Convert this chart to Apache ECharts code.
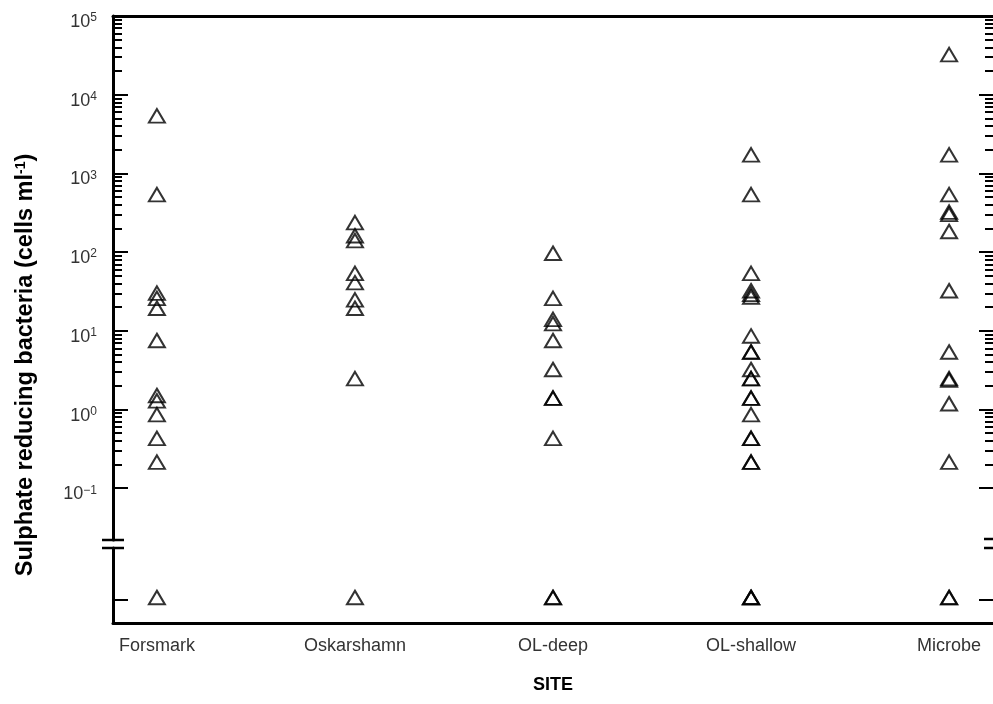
<!DOCTYPE html>
<html>
<head>
<meta charset="utf-8">
<script src="https://cdn.jsdelivr.net/npm/echarts@6/dist/echarts.min.js"></script>
<style>
  html, body { margin: 0; padding: 0; background: #fff; }
  #chart { width: 993px; height: 704px; }
</style>
</head>
<body>
<div id="chart"></div>
<script>
// Sites on the horizontal axis
const sites = ['Forsmark', 'Oskarshamn', 'OL-deep', 'OL-shallow', 'Microbe'];

// Sulphate reducing bacteria per site (cells per ml); 0 = below detection
const forsmark   = [5000, 500, 28, 24, 18, 7, 1.4, 1.2, 0.8, 0.4, 0.2, 0];
const oskarshamn = [220, 150, 130, 50, 38, 23, 18, 2.3, 0];
const olDeep     = [90, 24, 13, 11.5, 7, 3, 1.3, 1.3, 0.4, 0, 0];
const olShallow  = [1600, 500, 50, 30, 27, 25, 8, 5, 5, 3, 2.3, 2.3, 1.3, 1.3, 0.8, 0.4, 0.4, 0.2, 0.2, 0, 0, 0];
const microbe    = [30000, 1600, 500, 300, 280, 170, 30, 5, 2.3, 2.2, 1.1, 0.2, 0, 0];

// Decade tick labels of the log axis
const decadeTicks = [0.1, 1, 10, 100, 1000, 10000, 100000];
// Intermediate multipliers for the minor log ticks
const minorMultipliers = [2, 3, 4, 5, 6, 7, 8, 9];

const siteValues = [forsmark, oskarshamn, olDeep, olShallow, microbe];

const minorTicks = [];
decadeTicks.slice(0, -1).forEach(d => {
  minorMultipliers.forEach(k => minorTicks.push(parseFloat((k * d).toPrecision(4))));
});

const logPoints = [];
const zeroPoints = [];
siteValues.forEach((vals, i) => {
  vals.forEach(v => (v > 0 ? logPoints : zeroPoints).push([i, v]));
});

// layout of the two stacked panels (log part above the break, zero strip below)
const LEFT = 113, WIDTH = 882, TOP = 15, BREAK_HI = 540, BREAK_LO = 548, BOTTOM = 623;
const X_PAD = 0.2217;
const FONT = 'Liberation Sans, Arial, Helvetica, sans-serif';

const black = '#000';
const axisLine = { show: true, onZero: false, lineStyle: { color: black, width: 3 } };
const hiddenLine = { show: false, onZero: false };
const noSplit = { show: false };

function decadeLabel(v) {
  const e = Math.round(Math.log10(v));
  return '10{sup|' + (e < 0 ? '\u2212' + (-e) : e) + '}';
}
const labelRich = {
  sup: { fontSize: 12, color: '#333', fontFamily: FONT, verticalAlign: 'top', lineHeight: 12 }
};

function logAxis(position, ticks, len, width, withLine, withLabels) {
  return {
    gridIndex: 0, type: 'log', logBase: 10, position,
    min: 0.022, max: 100000,
    axisLine: withLine ? axisLine : hiddenLine,
    axisTick: { show: true, inside: true, length: len, customValues: ticks,
                lineStyle: { color: black, width } },
    axisLabel: withLabels ? {
      show: true, customValues: decadeTicks, formatter: decadeLabel,
      color: '#333', fontSize: 18, fontFamily: FONT, margin: 16,
      lineHeight: 20, padding: [12, 0, 0, 0], rich: labelRich
    } : { show: false },
    splitLine: noSplit, minorTick: { show: false }
  };
}

function zeroAxis(position, len, withLine) {
  return {
    gridIndex: 1, type: 'value', position, min: -23, max: 52,
    axisLine: withLine ? axisLine : hiddenLine,
    axisTick: { show: true, inside: true, length: len, customValues: [0],
                lineStyle: { color: black, width: 2 } },
    axisLabel: { show: false },
    splitLine: noSplit
  };
}

const triangle = {
  type: 'scatter', symbol: 'triangle', symbolSize: [16, 13.5], symbolOffset: [0, -2.5],
  itemStyle: { color: 'rgba(0,0,0,0)', borderColor: black, borderWidth: 2 },
  emphasis: { disabled: true }, silent: true
};

const chart = echarts.init(document.getElementById('chart'), null, { renderer: 'canvas' });
chart.setOption({
  animation: false,
  backgroundColor: '#fff',
  grid: [
    { left: LEFT, top: TOP, width: WIDTH, height: BREAK_HI - TOP },
    { left: LEFT, top: BREAK_LO, width: WIDTH, height: BOTTOM - BREAK_LO }
  ],
  xAxis: [
    { gridIndex: 0, type: 'value', position: 'top', min: -X_PAD, max: sites.length - 1 + X_PAD,
      axisLine, axisTick: { show: false }, axisLabel: { show: false }, splitLine: noSplit },
    { gridIndex: 1, type: 'value', position: 'bottom', min: -X_PAD, max: sites.length - 1 + X_PAD,
      axisLine, axisTick: { show: false },
      axisLabel: { show: true, customValues: sites.map((s, i) => i),
                   formatter: v => sites[Math.round(v)], color: '#333', fontSize: 18,
                   fontFamily: FONT, margin: 14 },
      splitLine: noSplit,
      name: 'SITE', nameLocation: 'middle', nameGap: 53,
      nameTextStyle: { color: black, fontSize: 18, fontWeight: 'bold', fontFamily: FONT } }
  ],
  yAxis: [
    logAxis('left', decadeTicks, 15, 2, true, true),
    logAxis('left', minorTicks, 9, 2, false, false),
    logAxis('right', decadeTicks, 14, 2, false, false),
    logAxis('right', minorTicks, 8, 2, false, false),
    zeroAxis('left', 15, true),
    zeroAxis('right', 14, false)
  ],
  series: [
    Object.assign({ xAxisIndex: 0, yAxisIndex: 0, data: logPoints }, triangle),
    Object.assign({ xAxisIndex: 1, yAxisIndex: 4, data: zeroPoints }, triangle)
  ],
  graphic: [
    { type: 'text', x: 26, y: 365, rotation: Math.PI / 2, silent: true,
      style: { text: 'Sulphate reducing bacteria (cells ml{sup|-1})',
               fill: black, fontSize: 23.5, fontWeight: 'bold', fontFamily: FONT,
               align: 'center', verticalAlign: 'middle',
               rich: { sup: { fontSize: 14, fontWeight: 'bold', fontFamily: FONT, fill: black,
                              verticalAlign: 'top', lineHeight: 14 } } } },
    // axis break marks
    { type: 'line', silent: true, shape: { x1: 102, y1: BREAK_HI, x2: 124, y2: BREAK_HI },
      style: { stroke: black, lineWidth: 2.5 } },
    { type: 'line', silent: true, shape: { x1: 102, y1: BREAK_LO, x2: 124, y2: BREAK_LO },
      style: { stroke: black, lineWidth: 2.5 } },
    { type: 'line', silent: true, shape: { x1: 984, y1: BREAK_HI - 1, x2: 995, y2: BREAK_HI - 1 },
      style: { stroke: black, lineWidth: 2.5 } },
    { type: 'line', silent: true, shape: { x1: 984, y1: BREAK_LO, x2: 995, y2: BREAK_LO },
      style: { stroke: black, lineWidth: 2.5 } }
  ]
});
</script>
</body>
</html>
